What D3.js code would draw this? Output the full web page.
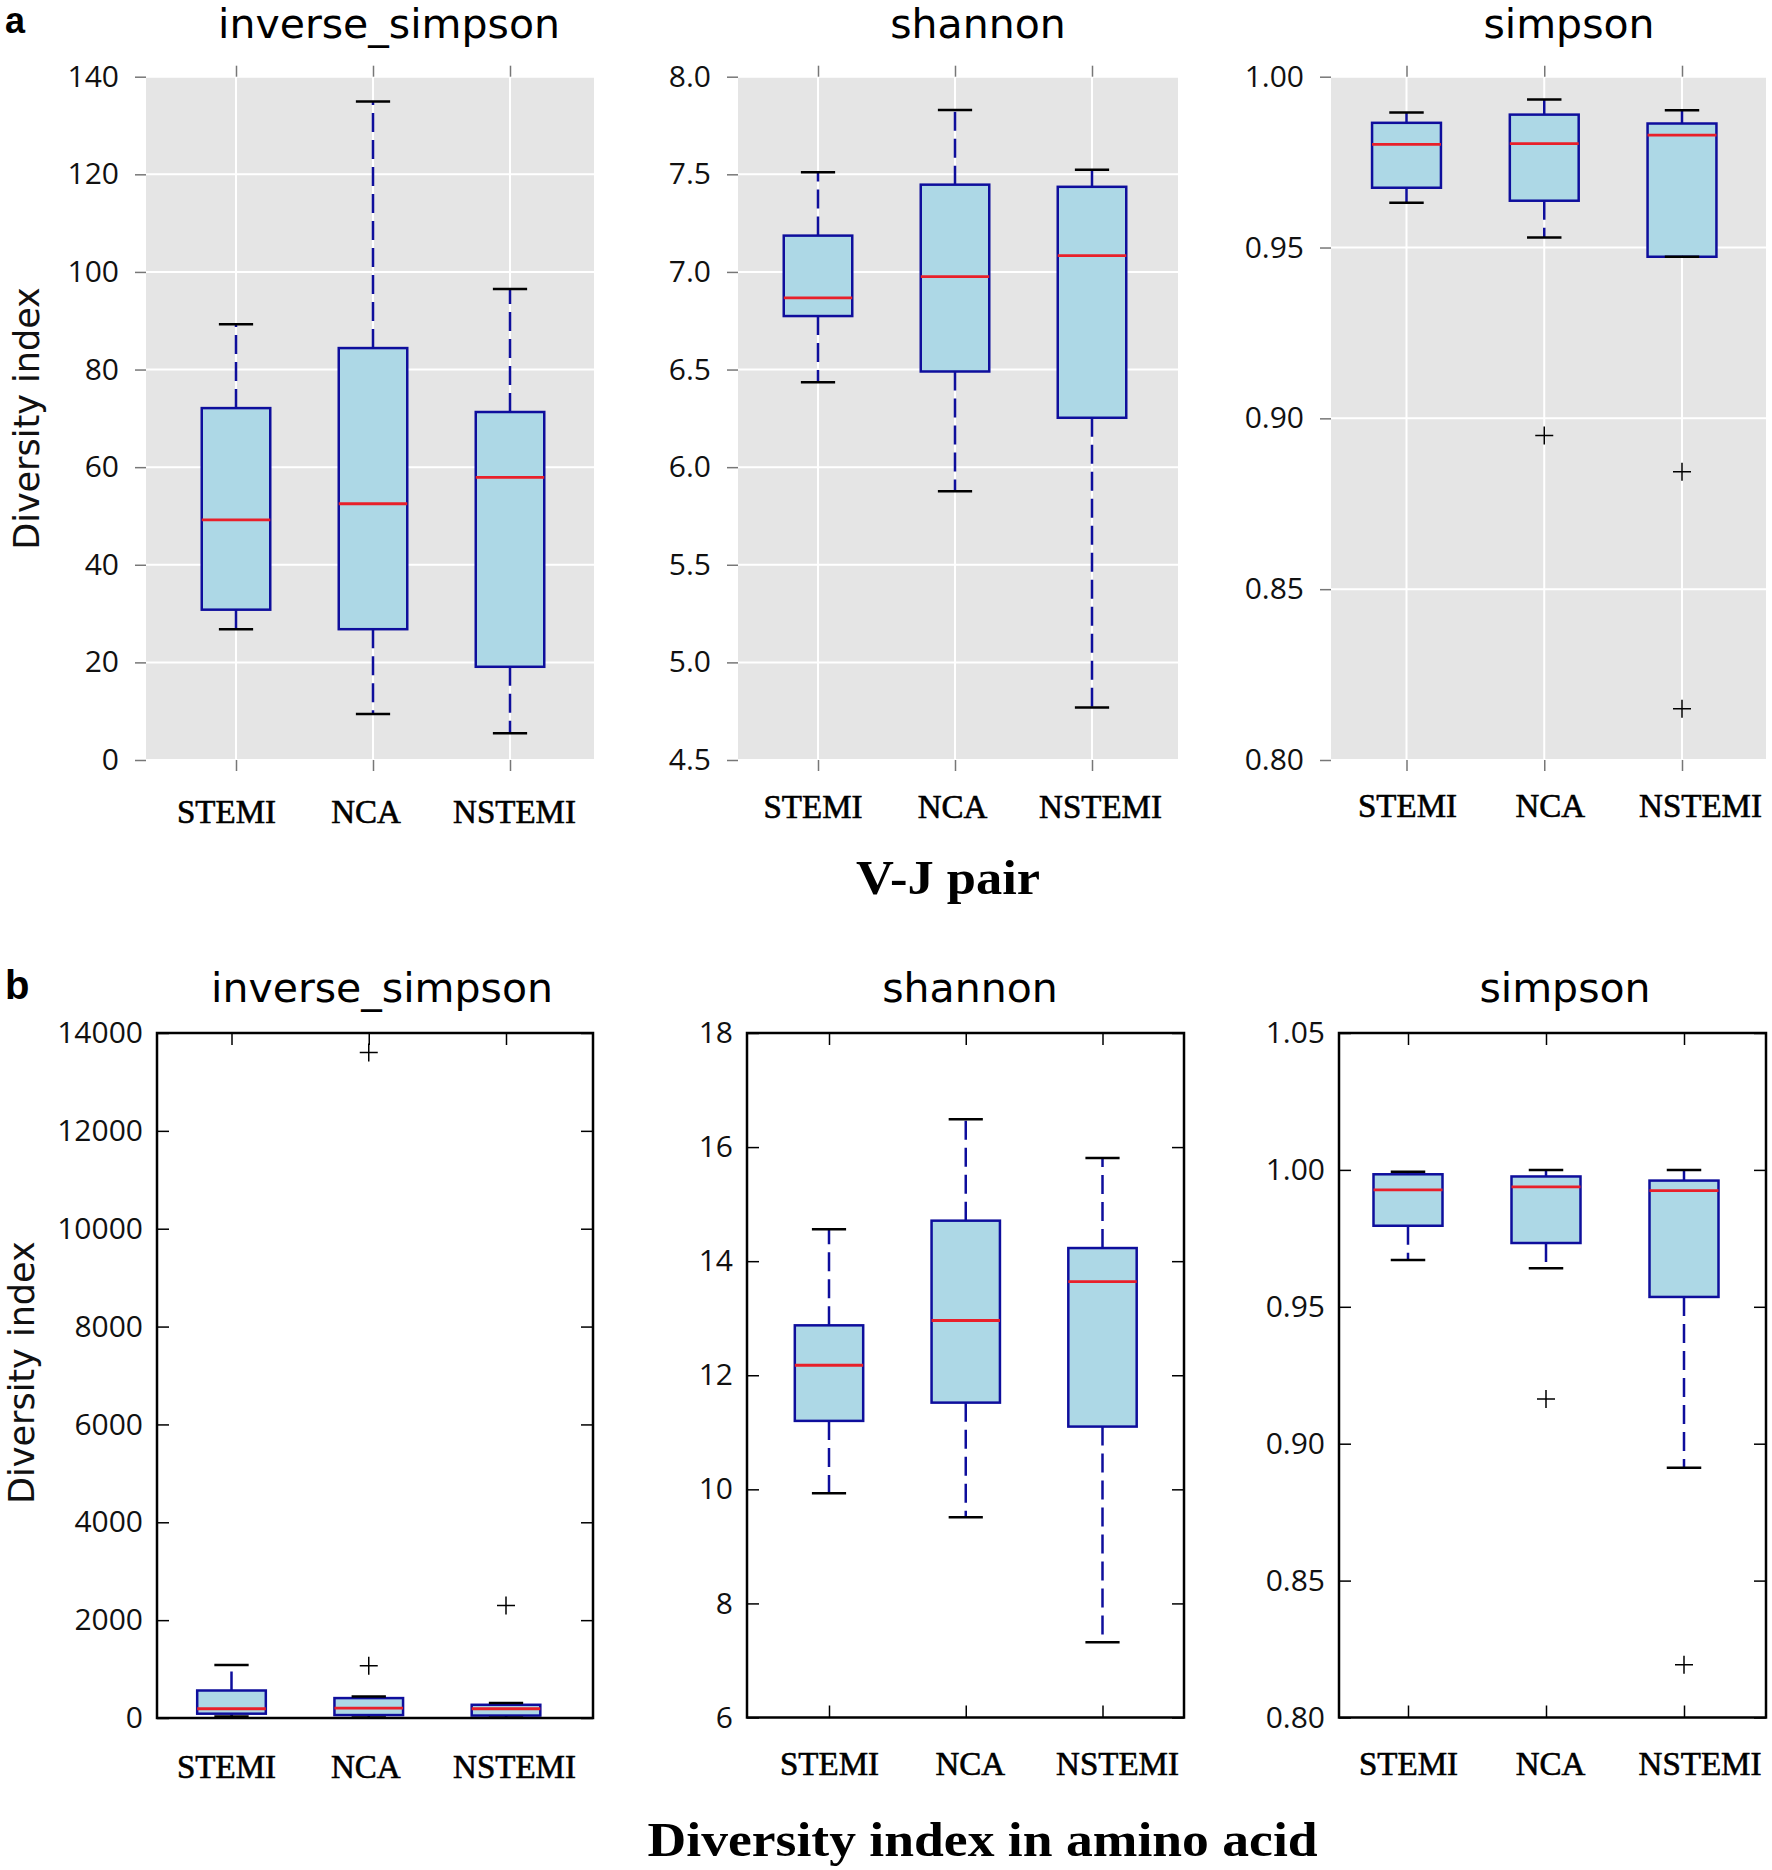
<!DOCTYPE html>
<html><head><meta charset="utf-8">
<script src="https://cdn.jsdelivr.net/npm/d3@7"></script>
<style>body{margin:0;background:#fff} svg{display:block}</style>
</head><body><svg id="c" width="1772" height="1870"></svg>
<script>
const groups = ["STEMI", "NCA", "NSTEMI"];
// each row: [whisker low, Q1, median, Q3, whisker high]
const vjInverseSimpson = [[26.8, 30.8, 49.2, 72.1, 89.3], [9.4, 26.8, 52.5, 84.4, 134.9], [5.5, 19.1, 57.9, 71.3, 96.5]];
const vjInverseSimpsonOut = [[], [], []];
const vjShannon = [[6.435, 6.774, 6.867, 7.186, 7.51], [5.877, 6.49, 6.976, 7.447, 7.829], [4.769, 6.253, 7.084, 7.436, 7.524]];
const vjShannonOut = [[], [], []];
const vjSimpson = [[0.9631, 0.9675, 0.9802, 0.9865, 0.9895], [0.9529, 0.9637, 0.9804, 0.9889, 0.9933], [0.9473, 0.9473, 0.9829, 0.9863, 0.9902]];
const vjSimpsonOut = [[], [0.895], [0.8844, 0.815]];
const aaInverseSimpson = [[30, 88, 189, 562, 1085], [10, 60, 203, 407, 440], [5, 50, 189, 270, 305]];
const aaInverseSimpsonOut = [[], [1070, 13600], [2300]];
const aaShannon = [[9.93, 11.2, 12.175, 12.875, 14.56], [9.51, 11.52, 12.96, 14.71, 16.49], [7.32, 11.1, 13.64, 14.23, 15.81]];
const aaShannonOut = [[], [], []];
const aaSimpson = [[0.9671, 0.9796, 0.9927, 0.9984, 0.9993], [0.9641, 0.9733, 0.9938, 0.9976, 1.0], [0.8912, 0.9536, 0.9924, 0.9961, 1.0]];
const aaSimpsonOut = [[], [0.9163], [0.8193]];

const ticksInvVJ = [0, 20, 40, 60, 80, 100, 120, 140];
const ticksShanVJ = [4.5, 5.0, 5.5, 6.0, 6.5, 7.0, 7.5, 8.0];
const ticksSimpVJ = [0.80, 0.85, 0.90, 0.95, 1.00];
const ticksInvAA = [0, 2000, 4000, 6000, 8000, 10000, 12000, 14000];
const ticksShanAA = [6, 8, 10, 12, 14, 16, 18];
const ticksSimpAA = [0.80, 0.85, 0.90, 0.95, 1.00, 1.05];

const panels = [
  {title: "inverse_simpson", data: vjInverseSimpson, out: vjInverseSimpsonOut, ticks: ticksInvVJ, fmt: "d", style: "a",
   xr: [236, 510], l: 146, r: 594, t: 76.7, b: 760, tx: 389, ty: 38, ly: 823, dx: [-10, -7.5, 4]},
  {title: "shannon", data: vjShannon, out: vjShannonOut, ticks: ticksShanVJ, fmt: ".1f", style: "a",
   xr: [818, 1092], l: 738, r: 1178, t: 76.7, b: 760, tx: 978, ty: 38, ly: 818, dx: [-5.5, -3, 8]},
  {title: "simpson", data: vjSimpson, out: vjSimpsonOut, ticks: ticksSimpVJ, fmt: ".2f", style: "a",
   xr: [1406.5, 1682], l: 1331, r: 1766, t: 76.7, b: 760, tx: 1569, ty: 38, ly: 817, dx: [0.5, 5.5, 18]},
  {title: "inverse_simpson", data: aaInverseSimpson, out: aaInverseSimpsonOut, ticks: ticksInvAA, fmt: "d", style: "b",
   xr: [231.5, 506], l: 157, r: 593, t: 1033, b: 1718, tx: 382, ty: 1002, ly: 1778, dx: [-5.5, -3.5, 8]},
  {title: "shannon", data: aaShannon, out: aaShannonOut, ticks: ticksShanAA, fmt: "d", style: "b",
   xr: [829, 1102.5], l: 747, r: 1184, t: 1033, b: 1717.5, tx: 970, ty: 1002, ly: 1775, dx: [0, 4, 14.5]},
  {title: "simpson", data: aaSimpson, out: aaSimpsonOut, ticks: ticksSimpAA, fmt: ".2f", style: "b",
   xr: [1408, 1684], l: 1339, r: 1766, t: 1033, b: 1717.5, tx: 1565, ty: 1002, ly: 1775, dx: [0, 4, 15.5]}
];

const svg = d3.select("#c");
const SANS = "'Open Sans', 'DejaVu Sans', sans-serif";
const TITLE = "'DejaVu Sans', sans-serif";
const SERIF = "'Liberation Serif', 'DejaVu Serif', serif";
const BLUE = "#0e0e9c";

function drawPanel(p) {
  const g = svg.append("g");
  const y = d3.scaleLinear().domain([p.ticks[0], p.ticks[p.ticks.length - 1]]).range([p.b, p.t]);
  const x = d3.scaleLinear().domain([1, 3]).range(p.xr);
  const unit = (p.xr[1] - p.xr[0]) / 2;
  const half = 0.25 * unit, capHalf = 0.125 * unit;
  const isA = p.style === "a";
  const tickCol = isA ? "#777" : "#000";

  if (isA) {
    g.append("rect").attr("x", p.l).attr("y", p.t).attr("width", p.r - p.l).attr("height", p.b - p.t).attr("fill", "#e5e5e5");
    g.selectAll(".hg").data(p.ticks).join("line")
      .attr("x1", p.l).attr("x2", p.r).attr("y1", d => y(d)).attr("y2", d => y(d))
      .attr("stroke", "#fff").attr("stroke-width", 2);
    g.selectAll(".vg").data([1, 2, 3]).join("line")
      .attr("x1", d => x(d)).attr("x2", d => x(d)).attr("y1", p.t).attr("y2", p.b)
      .attr("stroke", "#fff").attr("stroke-width", 2);
  }

  // left axis
  const ax = g.append("g").attr("transform", `translate(${p.l},0)`)
    .call(d3.axisLeft(y).tickValues(p.ticks).tickFormat(d3.format(p.fmt))
      .tickSize(isA ? 11 : -12).tickPadding(isA ? 16 : 14));
  ax.select(".domain").remove();
  ax.selectAll("line").attr("stroke", tickCol).attr("stroke-width", 1.5);
  ax.selectAll("text").attr("font-family", SANS).attr("font-size", 30).attr("fill", "#111");

  if (!isA) {
    const axr = g.append("g").attr("transform", `translate(${p.r},0)`)
      .call(d3.axisRight(y).tickValues(p.ticks).tickFormat("").tickSize(-12));
    axr.select(".domain").remove();
    axr.selectAll("line").attr("stroke", tickCol).attr("stroke-width", 1.5);
  }

  // top ticks
  const axt = g.append("g").attr("transform", `translate(0,${p.t})`)
    .call(d3.axisTop(x).tickValues([1, 2, 3]).tickFormat("").tickSize(isA ? 11 : -12));
  axt.select(".domain").remove();
  axt.selectAll("line").attr("stroke", tickCol).attr("stroke-width", 1.5);

  // bottom axis with labels
  const axb = g.append("g").attr("transform", `translate(0,${p.b})`)
    .call(d3.axisBottom(x).tickValues([1, 2, 3]).tickFormat(d => groups[d - 1]).tickSize(isA ? 11 : -12));
  axb.select(".domain").remove();
  axb.selectAll("line").attr("stroke", tickCol).attr("stroke-width", 1.5);
  axb.selectAll("text").attr("font-family", SERIF).attr("font-size", 33).attr("fill", "#000")
    .attr("stroke", "#000").attr("stroke-width", 0.6)
    .attr("y", p.ly - p.b).attr("dy", null).attr("dx", (d, i) => p.dx[i]);

  // boxes
  p.data.forEach((s, i) => {
    const cx = x(i + 1);
    const [lo, q1, med, q3, hi] = s;
    g.append("rect").attr("x", cx - half).attr("y", y(q3)).attr("width", 2 * half).attr("height", y(q1) - y(q3))
      .attr("fill", "#add8e6").attr("stroke", BLUE).attr("stroke-width", 2.5);
    [[q1, lo], [q3, hi]].forEach(([a, b]) => {
      g.append("line").attr("x1", cx).attr("x2", cx).attr("y1", y(a)).attr("y2", y(b))
        .attr("stroke", BLUE).attr("stroke-width", 2.5).attr("stroke-dasharray", "19,8");
    });
    [lo, hi].forEach(v => {
      g.append("line").attr("x1", cx - capHalf).attr("x2", cx + capHalf).attr("y1", y(v)).attr("y2", y(v))
        .attr("stroke", "#000").attr("stroke-width", 2.5);
    });
    g.append("line").attr("x1", cx - half).attr("x2", cx + half).attr("y1", y(med)).attr("y2", y(med))
      .attr("stroke", "#e8202a").attr("stroke-width", 2.8);
    g.selectAll(null).data(p.out[i]).join("path")
      .attr("d", v => `M${cx - 9},${y(v)}H${cx + 9}M${cx},${y(v) - 9}V${y(v) + 9}`)
      .attr("stroke", "#000").attr("stroke-width", 1.5).attr("fill", "none");
  });

  if (!isA) {
    g.append("rect").attr("x", p.l).attr("y", p.t).attr("width", p.r - p.l).attr("height", p.b - p.t)
      .attr("fill", "none").attr("stroke", "#000").attr("stroke-width", 2.5);
  }

  g.append("text").attr("x", p.tx).attr("y", p.ty).attr("text-anchor", "middle")
    .attr("font-family", TITLE).attr("font-size", 41).attr("fill", "#000").text(p.title);
}

panels.forEach(drawPanel);

// panel letters
svg.append("text").attr("x", 5).attr("y", 33).attr("font-family", "'Liberation Sans', Arial, sans-serif")
  .attr("font-weight", "bold").attr("font-size", 36).text("a");
svg.append("text").attr("x", 5).attr("y", 999).attr("font-family", "'Liberation Sans', Arial, sans-serif")
  .attr("font-weight", "bold").attr("font-size", 40).text("b");

// y labels
[[39, 418.5], [34, 1372.6]].forEach(([xx, yy]) => {
  svg.append("text").attr("transform", `translate(${xx},${yy}) rotate(-90)`).attr("text-anchor", "middle")
    .attr("font-family", TITLE).attr("font-size", 35).attr("fill", "#111").text("Diversity index");
});

// x group labels
svg.append("text").attr("x", 948).attr("y", 894).attr("text-anchor", "middle")
  .attr("font-family", SERIF).attr("font-weight", "bold").attr("font-size", 48)
  .attr("textLength", 184).attr("lengthAdjust", "spacingAndGlyphs").text("V-J pair");
svg.append("text").attr("x", 982.6).attr("y", 1856).attr("text-anchor", "middle")
  .attr("font-family", SERIF).attr("font-weight", "bold").attr("font-size", 48)
  .attr("textLength", 670).attr("lengthAdjust", "spacingAndGlyphs").text("Diversity index in amino acid");
</script>
</body></html>
